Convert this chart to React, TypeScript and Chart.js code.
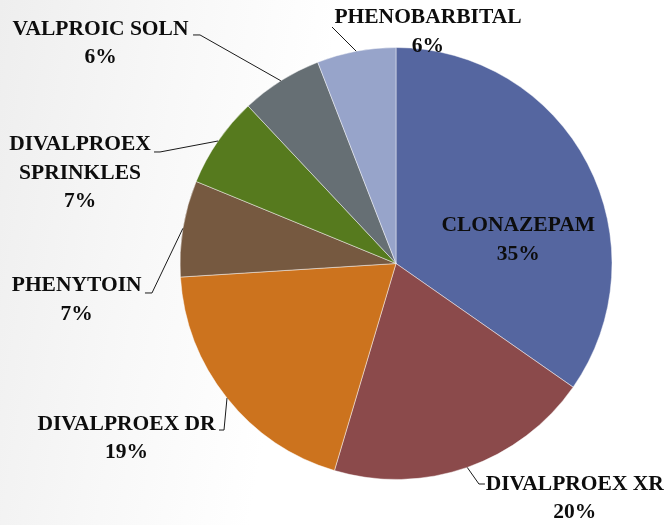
import React, { useEffect, useRef } from "react";
import { Chart, registerables } from "chart.js";

Chart.register(...registerables);

// ---- data ----
const categories = [
  "CLONAZEPAM",
  "DIVALPROEX XR",
  "DIVALPROEX DR",
  "PHENYTOIN",
  "DIVALPROEX SPRINKLES",
  "VALPROIC SOLN",
  "PHENOBARBITAL",
];
const shares = [34.7, 19.9, 19.4, 7.2, 6.8, 6.1, 5.9];
const colors = ["#5566A0", "#8B4A4B", "#CC731E", "#765940", "#567A1E", "#666F74", "#97A4CA"];

// ---- label layout (offsets from slice mid-edge point) ----
const wrapLabel = [false, false, false, false, true, false, false];
const labelOffset: [number, number][] = [
  [-69.3, 62.2],
  [107.5, 16.6],
  [-100.5, 26],
  [-106.2, 57.4],
  [-138.1, 3.5],
  [-180.3, -51.8],
  [71.8, -33.7],
];
// leader: elbow and end (null = no leader)
const leaderPts: ([number, number][] | null)[] = [
  null,
  [[11.7, 16.6], [17.7, 16.6]],
  [[-3, 32], [-8, 32]],
  [[-30.9, 64.6], [-37.9, 64.6]],
  [[-58.1, 11], [-64.1, 11]],
  [[-80.8, -45.8], [-87.8, -45.8]],
  [[-24.2, -24.2]],
];

const FONT = 'bold 21.5px "Liberation Serif", "Times New Roman", serif';
const LINE_H = 28.5;

const labelPlugin = {
  id: "sliceLabels",
  afterDatasetsDraw(chart: any) {
    const ctx = chart.ctx;
    const meta = chart.getDatasetMeta(0);
    const data = chart.data.datasets[0].data as number[];
    const total = data.reduce((a, b) => a + b, 0);
    ctx.save();
    meta.data.forEach((arc: any, i: number) => {
      const { x, y, startAngle, endAngle, outerRadius } = arc.getProps(
        ["x", "y", "startAngle", "endAngle", "outerRadius"],
        true
      );
      const mid = (startAngle + endAngle) / 2;
      const ex = x + Math.cos(mid) * outerRadius;
      const ey = y + Math.sin(mid) * outerRadius;
      const pts = leaderPts[i];
      if (pts) {
        ctx.beginPath();
        ctx.strokeStyle = "#1a1a1a";
        ctx.lineWidth = 1;
        ctx.moveTo(ex, ey);
        pts.forEach(([dx, dy]) => ctx.lineTo(ex + dx, ey + dy));
        ctx.stroke();
      }
      const name = chart.data.labels[i] as string;
      const lines = wrapLabel[i] ? name.split(" ") : [name];
      lines.push(Math.round((data[i] / total) * 100) + "%");
      ctx.font = FONT;
      ctx.fillStyle = "#0d0d0d";
      ctx.textAlign = "center";
      ctx.textBaseline = "middle";
      const lx = ex + labelOffset[i][0];
      const ly = ey + labelOffset[i][1];
      lines.forEach((t, k) => ctx.fillText(t, lx, ly + k * LINE_H));
    });
    ctx.restore();
  },
};

export default function App() {
  const ref = useRef<HTMLCanvasElement>(null);
  useEffect(() => {
    if (!ref.current) return;
    const chart = new Chart(ref.current, {
      type: "pie",
      data: {
        labels: categories,
        datasets: [
          {
            data: shares,
            backgroundColor: colors,
            borderColor: "rgba(255,255,255,0.45)",
            borderWidth: 1,
          },
        ],
      },
      options: {
        responsive: false,
        animation: false,
        layout: { padding: { left: 179.5, right: 55.5, top: 47, bottom: 45 } },
        plugins: { legend: { display: false }, tooltip: { enabled: false } },
      },
      plugins: [labelPlugin],
    });
    return () => chart.destroy();
  }, []);
  return (
    <div
      style={{
        position: "absolute",
        left: 0,
        top: 0,
        width: 668,
        height: 525,
        background: "linear-gradient(100deg, #eeeeee 0%, #f8f8f8 25%, #ffffff 45%)",
      }}
    >
      <canvas ref={ref} width={668} height={525} style={{ display: "block" }} />
    </div>
  );
}
